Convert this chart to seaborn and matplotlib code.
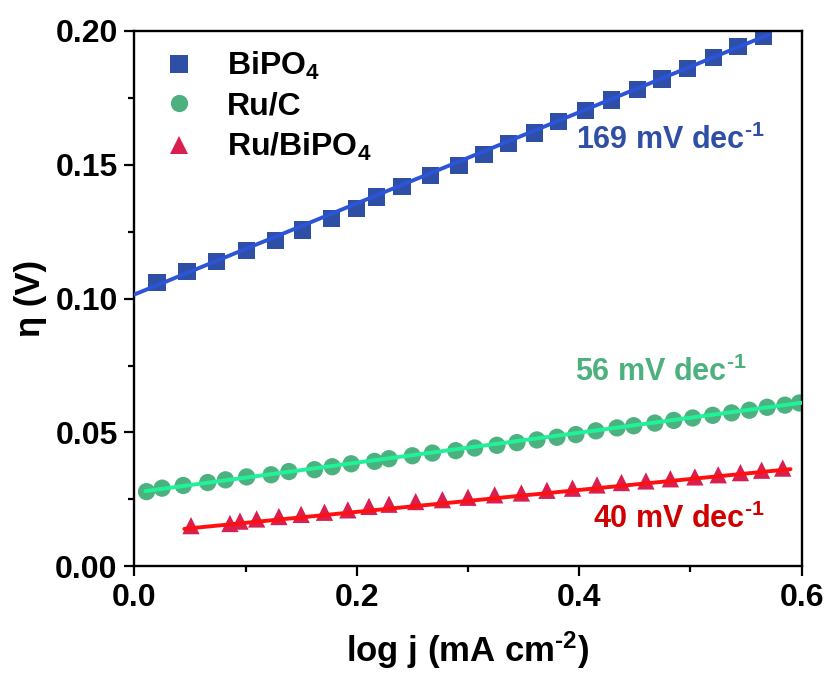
import numpy as np
import pandas as pd
import matplotlib
matplotlib.use("Agg")
import matplotlib.pyplot as plt
import seaborn as sns

# ---------------- data ----------------
bipo4_x = [0.0205, 0.0475, 0.0737, 0.1011, 0.1268, 0.1514, 0.1772, 0.1997, 0.2179, 0.2408,
           0.2662, 0.2919, 0.3145, 0.3366, 0.3596, 0.3817, 0.4059, 0.4289, 0.4522, 0.4744,
           0.4973, 0.5207, 0.5428, 0.5658]
bipo4_y = [0.1060, 0.1101, 0.1139, 0.1179, 0.1216, 0.1256, 0.1298, 0.1337, 0.1379, 0.1419,
           0.1460, 0.1497, 0.1537, 0.1579, 0.1618, 0.1660, 0.1701, 0.1741, 0.1781, 0.1820,
           0.1860, 0.1901, 0.1941, 0.1981]

ruc_x = [0.011, 0.025, 0.044, 0.066, 0.082, 0.101, 0.123, 0.139, 0.162, 0.178, 0.195, 0.216,
         0.229, 0.250, 0.268, 0.289, 0.306, 0.326, 0.344, 0.362, 0.380, 0.397, 0.415, 0.434,
         0.449, 0.468, 0.485, 0.502, 0.520, 0.537, 0.553, 0.569, 0.585, 0.598]
ruc_y = [0.0279, 0.0292, 0.0302, 0.0313, 0.0323, 0.0334, 0.0342, 0.0354, 0.0361, 0.0372,
         0.0383, 0.0392, 0.0402, 0.0413, 0.0423, 0.0432, 0.0442, 0.0452, 0.0462, 0.0472,
         0.0482, 0.0492, 0.0506, 0.0517, 0.0525, 0.0535, 0.0545, 0.0554, 0.0564, 0.0573,
         0.0583, 0.0594, 0.0602, 0.0610]

rubipo4_x = [0.051, 0.086, 0.095, 0.110, 0.130, 0.150, 0.171, 0.192, 0.211, 0.229, 0.253,
             0.277, 0.300, 0.324, 0.348, 0.371, 0.394, 0.416, 0.438, 0.460, 0.482, 0.504,
             0.525, 0.545, 0.564, 0.583]
rubipo4_y = [0.0152, 0.0160, 0.0169, 0.0177, 0.0186, 0.0194, 0.0202, 0.0211, 0.0224, 0.0232,
             0.0242, 0.0249, 0.0258, 0.0267, 0.0274, 0.0284, 0.0292, 0.0304, 0.0313, 0.0319,
             0.0327, 0.0334, 0.0342, 0.0350, 0.0359, 0.0367]

# linear (Tafel) fit segments: end points
fit_bipo4_x = [0.0, 0.570]
fit_bipo4_y = [0.1015, 0.1985]
fit_ruc_x = [0.010, 0.600]
fit_ruc_y = [0.0281, 0.0611]
fit_rubipo4_x = [0.045, 0.590]
fit_rubipo4_y = [0.0140, 0.0363]

series_names = ["BiPO$_4$", "Ru/C", "Ru/BiPO$_4$"]
slope_labels = [r"169 mV dec$^{\text{-1}}$", r"56 mV dec$^{\text{-1}}$", r"40 mV dec$^{\text{-1}}$"]

x_ticks = [0.0, 0.2, 0.4, 0.6]
y_ticks = [0.00, 0.05, 0.10, 0.15, 0.20]

# ---------------- style ----------------
sns.set_theme(style="ticks")
plt.rcParams["font.family"] = ["Liberation Sans", "DejaVu Sans"]
plt.rcParams["font.weight"] = "bold"
plt.rcParams["mathtext.fontset"] = "custom"
plt.rcParams["mathtext.rm"] = "Liberation Sans:bold"
plt.rcParams["mathtext.it"] = "Liberation Sans:bold"
plt.rcParams["mathtext.bf"] = "Liberation Sans:bold"
plt.rcParams["mathtext.default"] = "rm"
plt.rcParams["text.color"] = "black"
plt.rcParams["axes.labelcolor"] = "black"
plt.rcParams["xtick.color"] = "black"
plt.rcParams["ytick.color"] = "black"
plt.rcParams["axes.edgecolor"] = "black"

marker_colors = ["#2F4FA6", "#4DB17F", "#D81F4F"]
line_colors = ["#2B55D6", "#21F29A", "#FF1010"]
text_colors = ["#2F4FA6", "#4DB17F", "#D00000"]
markers = ["s", "o", "^"]

pts = pd.concat([
    pd.DataFrame({"x": bipo4_x, "y": bipo4_y, "s": series_names[0]}),
    pd.DataFrame({"x": ruc_x, "y": ruc_y, "s": series_names[1]}),
    pd.DataFrame({"x": rubipo4_x, "y": rubipo4_y, "s": series_names[2]}),
], ignore_index=True)
fits = pd.concat([
    pd.DataFrame({"x": fit_bipo4_x, "y": fit_bipo4_y, "s": series_names[0]}),
    pd.DataFrame({"x": fit_ruc_x, "y": fit_ruc_y, "s": series_names[1]}),
    pd.DataFrame({"x": fit_rubipo4_x, "y": fit_rubipo4_y, "s": series_names[2]}),
], ignore_index=True)

fig = plt.figure(figsize=(8.29, 6.84), dpi=100)
ax = fig.add_axes([0.162, 0.172, 0.805, 0.783])

sns.scatterplot(data=pts, x="x", y="y", hue="s", style="s",
                palette=dict(zip(series_names, marker_colors)),
                markers=dict(zip(series_names, markers)),
                s=155, edgecolor="none", linewidth=0, ax=ax, zorder=2)
sns.lineplot(data=fits, x="x", y="y", hue="s",
             palette=dict(zip(series_names, line_colors)),
             linewidth=2.8, ax=ax, legend=False, zorder=3, estimator=None, sort=False)

ax.set_xlim(0, 0.6)
ax.set_ylim(0, 0.2)
ax.set_xticks(x_ticks)
ax.set_yticks(y_ticks)
ax.set_xticklabels([f"{v:.1f}" for v in x_ticks])
ax.set_yticklabels([f"{v:.2f}" for v in y_ticks])
ax.set_xticks([0.1, 0.3, 0.5], minor=True)
ax.set_yticks([0.025, 0.075, 0.125, 0.175], minor=True)
ax.tick_params(axis="both", which="major", direction="out", length=7, width=1.6,
               labelsize=23, pad=5, top=False, right=False, colors="black")
ax.tick_params(axis="both", which="minor", direction="out", length=4, width=1.6,
               top=False, right=False, colors="black")
for lab in ax.get_xticklabels() + ax.get_yticklabels():
    lab.set_fontweight("bold")
for sp in ax.spines.values():
    sp.set_visible(True)
    sp.set_linewidth(1.7)
    sp.set_color("black")

ax.set_xlabel("log j (mA cm$^{\\text{-2}}$)", fontsize=25, fontweight="bold", labelpad=12,
              color="black")
ax.set_ylabel("η (V)", fontsize=25, fontweight="bold", labelpad=6, color="black")

ax.text(0.397, 0.159, slope_labels[0], color=text_colors[0], fontsize=22,
        fontweight="bold", va="center", ha="left")
ax.text(0.396, 0.0725, slope_labels[1], color=text_colors[1], fontsize=22,
        fontweight="bold", va="center", ha="left")
ax.text(0.412, 0.0175, slope_labels[2], color=text_colors[2], fontsize=22,
        fontweight="bold", va="center", ha="left")

leg = ax.legend(loc="upper left", bbox_to_anchor=(0.0, 1.0), frameon=False,
                fontsize=23, handletextpad=0.7, labelspacing=0.3, borderaxespad=0.2,
                markerscale=1.0, handlelength=1.6)
for t in leg.get_texts():
    t.set_fontweight("bold")
    t.set_color("black")

fig.savefig("out.png", dpi=100)
